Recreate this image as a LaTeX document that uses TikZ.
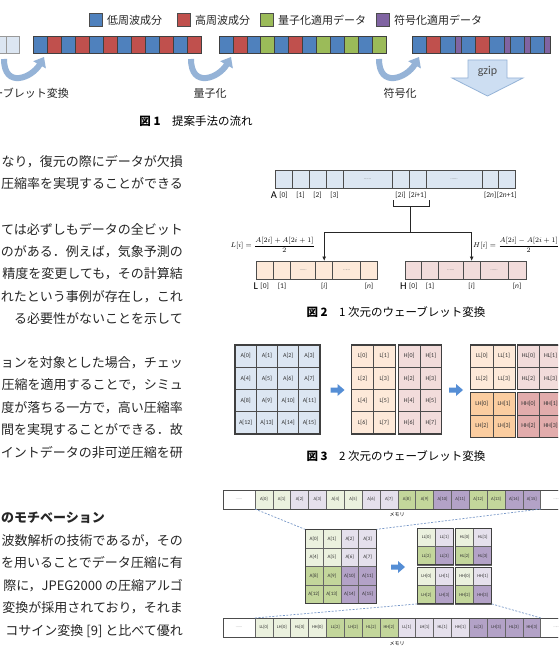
\documentclass[tikz,border=0pt]{standalone}
\usepackage{amsmath}
\usepackage{fontspec}
\usepackage{tikz}
\usetikzlibrary{arrows.meta, positioning, calc}
\newfontfamily\jpfont{Noto Sans CJK JP}
\newfontfamily\labfont{Carlito}
\usepackage{xcolor}
\definecolor{lowblue}{RGB}{79, 129, 189}
\definecolor{highred}{RGB}{192, 80, 77}
\definecolor{quantgreen}{RGB}{155, 187, 89}
\definecolor{codepurple}{RGB}{128, 100, 162}
\definecolor{curvblue}{RGB}{149, 179, 215}
\definecolor{gzipblue}{RGB}{205, 222, 242}
\definecolor{cellblue}{RGB}{220, 230, 242}
\definecolor{cellpeach}{RGB}{253, 233, 217}
\definecolor{cellpink}{RGB}{242, 220, 219}
\definecolor{cellorange}{RGB}{251, 205, 160}
\definecolor{cellrose}{RGB}{226, 172, 172}
\definecolor{lgreen}{RGB}{235, 241, 222}
\definecolor{lpurple}{RGB}{229, 224, 236}
\definecolor{dgreen}{RGB}{195, 214, 155}
\definecolor{dpurple}{RGB}{179, 162, 199}
\definecolor{dashblue}{RGB}{120, 152, 200}
\definecolor{arrblue}{RGB}{85, 142, 213}

\begin{document}
\begin{tikzpicture}[x=1pt, y=-1pt,
  bar/.style={draw=black!75, line width=0.6pt, minimum width=14pt, minimum height=17pt, anchor=north west, inner sep=0pt, outer sep=0pt},
  legbox/.style={draw=black!70, line width=0.6pt, minimum size=13pt, inner sep=0pt},
  legtext/.style={font=\jpfont\fontsize{11}{12}\selectfont, inner sep=0pt, text=black!85},
  curv/.style={draw=curvblue, line width=6pt, -{Triangle[width=14pt, length=9pt]}},
  steplabel/.style={font=\jpfont\fontsize{11}{12}\selectfont, inner sep=0pt, text=black!85},
  figcap/.style={font=\jpfont\fontsize{11.5}{13}\selectfont, inner sep=0pt},
  bodytext/.style={font=\jpfont\fontsize{13}{15}\selectfont, anchor=east, inner sep=0pt, text=black!85},
  acell/.style={draw=black!70, line width=0.7pt, minimum height=18pt, anchor=north west, inner sep=0pt, outer sep=0pt, font=\labfont\fontsize{5}{5}\selectfont, text=black!50},
  idx/.style={font=\labfont\fontsize{7.5}{8}\selectfont, inner sep=0pt, text=black!85},
  arrname/.style={font=\labfont\fontsize{10.5}{11}\selectfont, inner sep=0pt},
  formula/.style={font=\fontsize{7.5}{9}\selectfont, inner sep=0pt},
  flow/.style={line width=1pt, draw=black!85, -{Latex[length=4.5pt, width=4pt]}},
  gcell/.style={draw=black!70, line width=0.6pt, anchor=north west, inner sep=0pt, outer sep=0pt, font=\labfont\fontsize{6}{6}\selectfont, text=black!80},
  gridedge/.style={draw=black!75, line width=1.1pt},
  mcell/.style={draw=black!60, line width=0.5pt, anchor=north west, inner sep=0pt, outer sep=0pt, minimum height=19pt, font=\labfont\fontsize{4.5}{5}\selectfont, text=black!80},
  zoomline/.style={draw=dashblue, line width=0.7pt, dash pattern=on 2pt off 1.5pt},
  memlabel/.style={font=\jpfont\fontsize{5}{5}\selectfont, inner sep=0pt},
  blockarrow/.pic={\fill[arrblue] (-7,-2.5) -- (0,-2.5) -- (0,-6) -- (7,0) -- (0,6) -- (0,2.5) -- (-7,2.5) -- cycle;}
]
\useasboundingbox (0,0) rectangle (558,655);
\fill[white] (0,0) rectangle (558,655);
\clip (0,0) rectangle (558,655);

%% figure 1: flow of the method
\node[legbox, fill=lowblue] (leg-low) at (96,20) {};
\node[legtext, right=4pt of leg-low] (legt-low) {低周波成分};
\node[legbox, fill=highred] (leg-high) at (184,20) {};
\node[legtext, right=4pt of leg-high] (legt-high) {高周波成分};
\node[legbox, fill=quantgreen] (leg-quant) at (267,20) {};
\node[legtext, right=4pt of leg-quant] (legt-quant) {量子化適用データ};
\node[legbox, fill=codepurple] (leg-code) at (383,20) {};
\node[legtext, right=4pt of leg-code] (legt-code) {符号化適用データ};

\node[bar, fill=cellblue, draw=black!40, minimum width=13pt] (src-1) at (-7,36) {};
\node[bar, fill=cellblue, draw=black!40, minimum width=13pt] (src-2) at (6,36) {};
\foreach \c [count=\i] in {lowblue,highred,lowblue,highred,lowblue,highred,lowblue,highred,lowblue,highred,lowblue,highred}
  \node[bar, fill=\c] (wv-\i) at ({33+14*(\i-1)},36) {};
\foreach \c [count=\i] in {lowblue,highred,lowblue,quantgreen,lowblue,highred,lowblue,quantgreen,lowblue,quantgreen,lowblue,quantgreen}
  \node[bar, fill=\c, minimum width=13.9pt] (qz-\i) at ({219+13.9*(\i-1)},36) {};
\foreach \x/\w/\c [count=\i] in {412/14.3/lowblue, 426.3/14.3/highred, 440.6/14.3/lowblue, 454.9/6/codepurple, 460.9/14.3/lowblue, 475.2/14.3/highred, 489.5/14.3/lowblue, 503.8/6/codepurple, 509.8/14.3/lowblue, 524.1/6/codepurple, 530.1/14.3/lowblue, 544.4/6/codepurple}
  \node[bar, fill=\c, minimum width=\w pt] (cd-\i) at (\x,36) {};

\coordinate (wt-s) at (4,59);   \coordinate (wt-e) at (44,57);
\coordinate (qt-s) at (191,59); \coordinate (qt-e) at (231,57);
\coordinate (en-s) at (379,59); \coordinate (en-e) at (419,57);
\draw[curv] (wt-s) .. controls +(0,30) and +(-12,21) .. (wt-e);
\draw[curv] (qt-s) .. controls +(0,30) and +(-12,21) .. (qt-e);
\draw[curv] (en-s) .. controls +(0,30) and +(-12,21) .. (en-e);
\node[steplabel, anchor=east] (lab-wt) at (69,93) {ウェーブレット変換};
\node[steplabel] (lab-qt) at (210,93) {量子化};
\node[steplabel] (lab-en) at (400,93) {符号化};

\filldraw[fill=gzipblue, draw=curvblue, line width=0.8pt] (468,60) -- (507,60) -- (507,78) -- (523,78) -- (487.5,96) -- (452,78) -- (468,78) -- cycle;
\node[font=\labfont\fontsize{12}{12}\selectfont, text=black!70, inner sep=0pt] (gzip) at (487.5,71) {gzip};

\node[figcap] (cap1) at (196,121) {{\bfseries 図 1}\hspace{1em}提案手法の流れ};

%% body text of the left column
\foreach \y/\t [count=\i] in {161.5/{なり，復元の際にデータが欠損}, 184/{圧縮率を実現することができる},
    229/{ては必ずしもデータの全ビット}, 251.5/{のがある．例えば，気象予測の}, 274/{精度を変更しても，その計算結},
    296.5/{れたという事例が存在し，これ}, 319/{る必要性がないことを示して},
    362.5/{ョンを対象とした場合，チェッ}, 385/{圧縮を適用することで，シミュ}, 407.5/{度が落ちる一方で，高い圧縮率},
    430/{間を実現することができる．故}, 452.5/{イントデータの非可逆圧縮を研},
    541/{波数解析の技術であるが，その}, 563/{を用いることでデータ圧縮に有}, 586/{際に，JPEG2000 の圧縮アルゴ},
    608/{変換が採用されており，それま}, 631/{コサイン変換 [9] と比べて優れ}}
  \node[bodytext] (line-\i) at (183,\y) {\t};
\node[bodytext, anchor=west, font=\jpfont\bfseries\fontsize{13}{15}\selectfont] (sechead) at (1,518) {のモチベーション};

%% figure 2: 1D wavelet transform
\foreach \x/\w/\t [count=\i] in {275/17/{}, 292/17/{}, 309/17/{}, 326/17/{}, 343/49/{……}, 392/17/{}, 409/17/{}, 426/56/{……}, 482/16.5/{}, 498.5/16.5/{}}
  \node[acell, fill=cellblue, minimum width=\w pt] (a-\i) at (\x,170) {\t};
\foreach \i/\t in {1/{[0]}, 2/{[1]}, 3/{[2]}, 4/{[3]}, 6/{[2\textit{i}]}, 7/{[2\textit{i}+1]}, 9/{[2\textit{n}]}, 10/{[2\textit{n}+1]}}
  \node[idx, below=4pt of a-\i] (ia-\i) {\t};
\node[arrname, left=2pt of ia-1] (aname) {A};

\foreach \x/\w/\t [count=\i] in {256/17.3/{}, 273.3/17.4/{}, 290.7/25/{……}, 315.7/17/{}, 332.7/28/{……}, 360.7/16.6/{}}
  \node[acell, fill=cellpeach, minimum width=\w pt] (l-\i) at (\x,261) {\t};
\foreach \x/\w/\t [count=\i] in {405/16.7/{}, 421.7/16.6/{}, 438.3/25/{……}, 463.3/16.7/{}, 480/28.3/{……}, 508.3/17.7/{}}
  \node[acell, fill=cellpink, minimum width=\w pt] (h-\i) at (\x,261) {\t};
\foreach \i/\t in {1/{[0]}, 2/{[1]}, 4/{[\textit{i}]}, 6/{[\textit{n}]}} {
  \node[idx, below=4pt of l-\i] (il-\i) {\t};
  \node[idx, below=4pt of h-\i] (ih-\i) {\t};
}
\node[arrname, left=2pt of il-1] (lname) {L};
\node[arrname, left=2pt of ih-1] (hname) {H};

\draw[line width=0.9pt, draw=black!85] ($(a-6.south west)+(1,12)$) -- ++(0,6) -| ($(a-7.south east)+(3,12)$);
\coordinate (stem) at ($(a-6.south east)+(1.5,18)$);
\coordinate (split) at ($(stem)+(0,26)$);
\draw[line width=1pt, draw=black!85] (stem) -- (split);
\draw[flow] (split) -| (l-4.north);
\draw[flow] (split) -| (h-4.north);

\node[formula, anchor=east] (lform) at (315,245) {$\displaystyle L[i]=\frac{A[2i]+A[2i+1]}{2}$};
\node[formula, anchor=west] (hform) at (473,245) {$\displaystyle H[i]=\frac{A[2i]-A[2i+1]}{2}$};

\node[figcap] (cap2) at (396,312) {{\bfseries 図 2}\hspace{1em}1 次元のウェーブレット変換};

%% figure 3: 2D wavelet transform
\foreach \r in {0,...,3}
  \foreach \c in {0,...,3} {
    \pgfmathtruncatemacro{\n}{4*\r+\c}
    \node[gcell, fill=cellblue, minimum width=21.25pt, minimum height=22.25pt] (ga-\n) at ({235+21.25*\c},{345+22.25*\r}) {A[\n]};
  }
\foreach \r in {0,...,3}
  \foreach \c in {0,1} {
    \pgfmathtruncatemacro{\n}{2*\r+\c}
    \node[gcell, fill=cellpeach, minimum width=21.7pt, minimum height=22.25pt] (gl-\n) at ({351.7+21.7*\c},{345+22.25*\r}) {L[\n]};
    \node[gcell, fill=cellpink, minimum width=21.7pt, minimum height=22.25pt] (gh-\n) at ({398.3+21.7*\c},{345+22.25*\r}) {H[\n]};
  }
\foreach \r in {0,1}
  \foreach \c in {0,1} {
    \pgfmathtruncatemacro{\n}{2*\r+\c}
    \node[gcell, fill=cellpeach, minimum size=22.2pt] (gll-\n) at ({470.7+22.2*\c},{345+22.2*\r}) {LL[\n]};
    \node[gcell, fill=cellpink, minimum size=22.2pt] (ghl-\n) at ({517.3+22.2*\c},{345+22.2*\r}) {HL[\n]};
    \node[gcell, fill=cellorange, minimum size=22.2pt] (glh-\n) at ({470.7+22.2*\c},{392.7+22.2*\r}) {LH[\n]};
    \node[gcell, fill=cellrose, minimum size=22.2pt] (ghh-\n) at ({517.3+22.2*\c},{392.7+22.2*\r}) {HH[\n]};
  }
\draw[gridedge] (ga-0.north west) rectangle (ga-15.south east);
\draw[gridedge] (gl-0.north west) rectangle (gl-7.south east);
\draw[gridedge] (gh-0.north west) rectangle (gh-7.south east);
\draw[gridedge] (gll-0.north west) rectangle (gll-3.south east);
\draw[gridedge] (ghl-0.north west) rectangle (ghl-3.south east);
\draw[gridedge] (glh-0.north west) rectangle (glh-3.south east);
\draw[gridedge] (ghh-0.north west) rectangle (ghh-3.south east);
\pic (step3a) at (337.5,390) {blockarrow};
\pic (step3b) at (456,390) {blockarrow};

\node[figcap] (cap3) at (396,456) {{\bfseries 図 3}\hspace{1em}2 次元のウェーブレット変換};

%% figure 4: memory layout
\node[mcell, fill=white, minimum width=32pt, text=black!40] (mt-l) at (223,490) {……};
\foreach \c [count=\n from 0] in {lgreen,lgreen,lpurple,lpurple,lgreen,lgreen,lpurple,lpurple,dgreen,dgreen,dpurple,dpurple,dgreen,dgreen,dpurple,dpurple}
  \node[mcell, fill=\c, minimum width=17.86pt] (mt-\n) at ({255+17.86*\n},490) {A[\n]};
\node[mcell, fill=white, minimum width=32pt, text=black!40] (mt-r) at (540.7,490) {……};
\draw[draw=black!70, line width=0.9pt] (mt-l.north west) rectangle (mt-r.south east);
\node[memlabel] (mem-t) at (397,515) {メモリ};

\foreach \c [count=\n from 0] in {lgreen,lgreen,lpurple,lpurple,lgreen,lgreen,lpurple,lpurple,dgreen,dgreen,dpurple,dpurple,dgreen,dgreen,dpurple,dpurple} {
  \pgfmathtruncatemacro{\r}{div(\n,4)}
  \pgfmathtruncatemacro{\k}{mod(\n,4)}
  \node[mcell, fill=\c, minimum width=17.9pt, minimum height=18.5pt, font=\labfont\fontsize{5}{5}\selectfont] (fa-\n) at ({305+17.9*\k},{529.3+18.5*\r}) {A[\n]};
}
\draw[gridedge, line width=0.9pt] (fa-0.north west) rectangle (fa-15.south east);
\foreach \c [count=\n from 0] in {lgreen,lpurple,dgreen,dpurple} {
  \pgfmathtruncatemacro{\r}{div(\n,2)}
  \pgfmathtruncatemacro{\k}{mod(\n,2)}
  \node[mcell, fill=\c, minimum width=18pt, minimum height=18.3pt] (fll-\n) at ({417.3+18*\k},{528.3+18.3*\r}) {LL[\n]};
  \node[mcell, fill=\c, minimum width=18pt, minimum height=18.3pt] (fhl-\n) at ({455.7+18*\k},{528.3+18.3*\r}) {HL[\n]};
  \node[mcell, fill=\c, minimum width=18pt, minimum height=18.3pt] (flh-\n) at ({417.3+18*\k},{567.3+18.3*\r}) {LH[\n]};
  \node[mcell, fill=\c, minimum width=18pt, minimum height=18.3pt] (fhh-\n) at ({455.7+18*\k},{567.3+18.3*\r}) {HH[\n]};
}
\draw[gridedge, line width=0.9pt] (fll-0.north west) rectangle (fll-3.south east);
\draw[gridedge, line width=0.9pt] (fhl-0.north west) rectangle (fhl-3.south east);
\draw[gridedge, line width=0.9pt] (flh-0.north west) rectangle (flh-3.south east);
\draw[gridedge, line width=0.9pt] (fhh-0.north west) rectangle (fhh-3.south east);
\pic (step4) at (398,567) {blockarrow};

\node[mcell, fill=white, minimum width=32pt, text=black!40] (mb-l) at (223,618) {……};
\foreach \t/\c [count=\n from 0] in {LL[0]/lgreen, LH[0]/lgreen, HL[0]/lgreen, HH[0]/lgreen, LL[2]/dgreen, LH[2]/dgreen, HL[2]/dgreen, HH[2]/dgreen, LL[1]/lpurple, LH[1]/lpurple, HL[1]/lpurple, HH[1]/lpurple, LL[3]/dpurple, LH[3]/dpurple, HL[3]/dpurple, HH[3]/dpurple}
  \node[mcell, fill=\c, minimum width=17.86pt] (mb-\n) at ({255+17.86*\n},618) {\t};
\node[mcell, fill=white, minimum width=32pt, text=black!40] (mb-r) at (540.7,618) {……};
\draw[draw=black!70, line width=0.9pt] (mb-l.north west) rectangle (mb-r.south east);
\node[memlabel] (mem-b) at (397,644) {メモリ};

\draw[zoomline] (mt-0.south west) -- (fa-0.north west);
\draw[zoomline] (mt-15.south east) -- (fa-3.north east);
\draw[zoomline] (mb-0.north west) -- (flh-2.south west);
\draw[zoomline] (mb-15.north east) -- (fhh-3.south east);
\end{tikzpicture}
\end{document}
